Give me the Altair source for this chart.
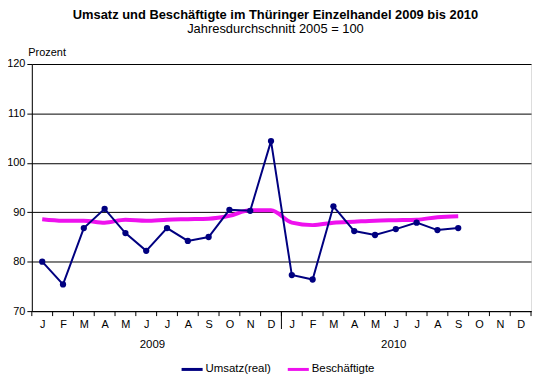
import altair as alt
import pandas as pd

month_letters = ["J", "F", "M", "A", "M", "J", "J", "A", "S", "O", "N", "D"] * 2
umsatz = [80.0, 75.4, 86.8, 90.7, 85.8, 82.2, 86.8, 84.2, 85.0, 90.5, 90.3, 104.4,
          77.3, 76.4, 91.2, 86.2, 85.4, 86.6, 87.9, 86.4, 86.8]
besch = [88.6, 88.3, 88.3, 87.9, 88.5, 88.3, 88.5, 88.6, 88.7, 89.3, 90.4, 90.4,
         87.9, 87.4, 87.9, 88.1, 88.3, 88.4, 88.5, 89.0, 89.2]
years = ["2009", "2010"]
year_pos = [5.8, 17.4]
month_bounds = list(range(25))
year_bound = [12]

NAVY = "#000080"
PINK = "#EE11EE"
FONT = "Liberation Sans"

rows = []
for i, v in enumerate(umsatz):
    rows.append({"i": i + 0.5, "v": v, "s": "Umsatz(real)"})
for i, v in enumerate(besch):
    rows.append({"i": i + 0.5, "v": v, "s": "Beschäftigte"})
df = pd.DataFrame(rows)

bounds = pd.DataFrame({"b": month_bounds})
ybounds = pd.DataFrame({"b": year_bound})
yr = pd.DataFrame({"x": year_pos, "t": years})

W, H = 503, 249

xscale = alt.Scale(domain=[0, 24], nice=False, zero=False)
yscale = alt.Scale(domain=[70, 120], nice=False, zero=False)

label_expr = "[" + ",".join('"%s"' % m for m in month_letters) + "][floor(datum.value)]"

xaxis = alt.Axis(values=[i + 0.5 for i in range(24)], labelExpr=label_expr, ticks=False,
                 title=None, grid=False, domainColor="black", labelFont=FONT,
                 labelFontSize=11, labelColor="black", labelPadding=8, labelFlush=False,
                 labelOverlap=False, labelBound=False)
yaxis = alt.Axis(values=[70, 80, 90, 100, 110, 120], grid=True, gridColor="black",
                 gridWidth=1, domainColor="black", tickColor="black", tickSize=5,
                 labelFont=FONT, labelFontSize=11, labelColor="black", labelPadding=2,
                 labelOverlap=False,
                 title="Prozent", titleAngle=0, titleAlign="left", titleBaseline="alphabetic",
                 titleX=-4, titleY=-9, titleFont=FONT, titleFontSize=11,
                 titleFontWeight="normal", titleColor="black")

X = lambda f: alt.X(f, scale=xscale, axis=xaxis)
Y = lambda f: alt.Y(f, scale=yscale, axis=yaxis)

color = alt.Color("s:N", scale=alt.Scale(domain=["Umsatz(real)", "Beschäftigte"], range=[NAVY, PINK]),
                  legend=alt.Legend(title=None, orient="none", direction="horizontal",
                                    legendX=149, legendY=H + 46,
                                    symbolType="stroke", symbolSize=450, symbolStrokeWidth=3,
                                    labelFont=FONT, labelFontSize=11.5, labelColor="black",
                                    columnPadding=10, symbolOffset=0, labelOffset=1))

base = alt.Chart(df)

lines_u = base.transform_filter(alt.datum.s == "Umsatz(real)").mark_line(
    strokeWidth=2, point=alt.OverlayMarkDef(filled=True, size=40, color=NAVY)
).encode(x=X("i:Q"), y=Y("v:Q"), color=color)

lines_b = base.transform_filter(alt.datum.s == "Beschäftigte").mark_line(
    strokeWidth=4, interpolate="monotone"
).encode(x=X("i:Q"), y=Y("v:Q"), color=color)

ticks = alt.Chart(bounds).mark_rule(color="black", strokeWidth=1, clip=False).encode(
    x=X("b:Q"), y=alt.value(H), y2=alt.value(H + 5)
)
sep = alt.Chart(ybounds).mark_rule(color="black", strokeWidth=1, clip=False).encode(
    x=X("b:Q"), y=alt.value(H), y2=alt.value(H + 18)
)

year_text = alt.Chart(yr).mark_text(font=FONT, fontSize=11.5, color="black", baseline="middle").encode(
    x=X("x:Q"), y=alt.value(H + 34), text="t:N"
)

chart = alt.layer(lines_b, lines_u, ticks, sep, year_text).properties(
    width=W, height=H,
    title=alt.TitleParams(
        text="Umsatz und Beschäftigte  im Thüringer Einzelhandel 2009 bis 2010",
        subtitle="Jahresdurchschnitt 2005 = 100",
        font=FONT, fontSize=13, fontWeight="bold", color="black",
        subtitleFont=FONT, subtitleFontSize=13, subtitleColor="black", subtitlePadding=1,
        anchor="middle", offset=10, dx=-6,
    ),
    autosize=alt.AutoSizeParams(type="none"),
    padding={"left": 24, "top": 55, "right": 3, "bottom": 72},
).configure_view(stroke="black", strokeWidth=1).configure(background="white")

chart.save("out.html", embed_options={"renderer": "svg", "actions": False})
